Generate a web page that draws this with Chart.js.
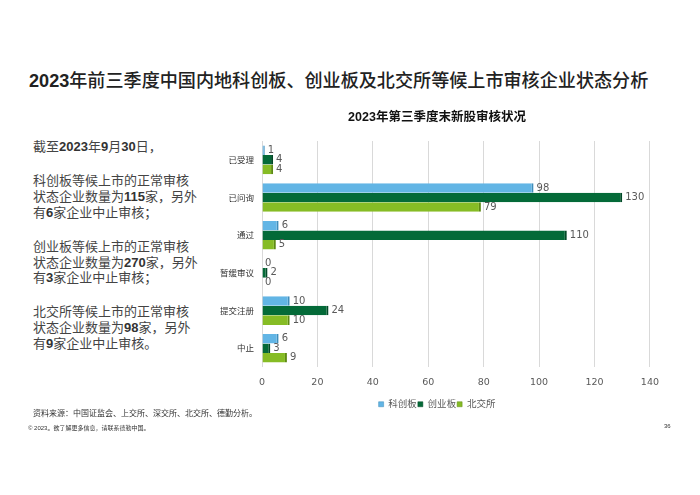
<!DOCTYPE html>
<html>
<head>
<meta charset="utf-8">
<script src="https://cdn.jsdelivr.net/npm/chart.js@4"></script>
<style>
  body { margin: 0; width: 700px; height: 495px; background: #fff; position: relative; overflow: hidden;
         font-family: "Liberation Sans", "Noto Sans CJK SC", sans-serif; color: #222; }
  .title { position: absolute; left: 29px; top: 66px; font-size: 18.1px; font-weight: bold; white-space: nowrap; }
  .title span { font-weight: 500; }
  .notes { position: absolute; left: 33px; top: 139px; font-size: 13px; line-height: 15.7px; color: #444; }
  .notes p { margin: 0 0 18.5px 0; }
  .notes b { color: #333; }
  .chartbox { position: absolute; left: 205px; top: 100px; width: 464px; height: 319px; }
  .source { position: absolute; left: 33px; top: 407px; font-size: 8px; color: #333; }
  .foot { position: absolute; left: 28px; top: 423px; font-size: 6px; color: #333; }
  .page { position: absolute; left: 664px; top: 423px; font-size: 6px; color: #333; }
</style>
</head>
<body>
<div class="title">2023<span>年前三季度中国内地科创板、创业板及北交所等候上市审核企业状态分析</span></div>
<div class="notes">
  <p>截至<b>2023</b>年<b>9</b>月<b>30</b>日，</p>
  <p>科创板等候上市的正常审核<br>状态企业数量为<b>115</b>家，另外<br>有<b>6</b>家企业中止审核；</p>
  <p>创业板等候上市的正常审核<br>状态企业数量为<b>270</b>家，另外<br>有<b>3</b>家企业中止审核；</p>
  <p>北交所等候上市的正常审核<br>状态企业数量为<b>98</b>家，另外<br>有<b>9</b>家企业中止审核。</p>
</div>
<div class="chartbox"><canvas id="reviewChart"></canvas></div>
<div class="source">资料来源：中国证监会、上交所、深交所、北交所、德勤分析。</div>
<div class="foot">© 2023。欲了解更多信息，请联系德勤中国。</div>
<div class="page">36</div>

<script>
// Data
const categories = ['已受理', '已问询', '通过', '暂缓审议', '提交注册', '中止'];
const kechuang = [1, 98, 6, 0, 10, 6];
const chuangye = [4, 130, 110, 2, 24, 3];
const beijiao = [4, 79, 5, 0, 10, 9];
const xTicks = [0, 20, 40, 60, 80, 100, 120, 140];

const chartFont = '"DejaVu Sans", "Noto Sans CJK SC", sans-serif';

// Value labels at the end of each bar
const barLabels = {
  id: 'barLabels',
  afterDatasetsDraw(chart) {
    const ctx = chart.ctx;
    ctx.save();
    ctx.font = '10px ' + chartFont;
    ctx.fillStyle = '#595959';
    ctx.textBaseline = 'middle';
    ctx.textAlign = 'left';
    chart.data.datasets.forEach((ds, i) => {
      chart.getDatasetMeta(i).data.forEach((bar, j) => {
        ctx.fillText(ds.data[j], bar.x + 3, bar.y);
      });
    });
    ctx.restore();
  }
};

const ctx = document.getElementById('reviewChart').getContext('2d');
new Chart(ctx, {
  type: 'bar',
  data: {
    labels: categories,
    datasets: [{
      label: '科创板',
      data: kechuang,
      backgroundColor: '#62B5E5',
      borderColor: '#3F8DBA',
    }, {
      label: '创业板',
      data: chuangye,
      backgroundColor: '#046A38',
      borderColor: '#024A27',
    }, {
      label: '北交所',
      data: beijiao,
      backgroundColor: '#86BC25',
      borderColor: '#5E8A14',
    }]
  },
  options: {
    indexAxis: 'y',
    responsive: true,
    maintainAspectRatio: false,
    animation: false,
    datasets: {
      bar: {
        categoryPercentage: 0.76,
        barPercentage: 1.0,
        borderWidth: { top: 0, right: 2, bottom: 0, left: 0 },
        borderSkipped: 'left'
      }
    },
    layout: { padding: { top: 0, right: 0, bottom: 0, left: 0 } },
    plugins: {
      title: {
        display: true,
        text: '2023年第三季度末新股审核状况',
        color: '#111',
        font: { family: '"Liberation Sans", "Noto Sans CJK SC", sans-serif', size: 12.5, weight: 'bold' },
        padding: { top: 10, bottom: 16 }
      },
      legend: {
        position: 'bottom',
        labels: {
          boxWidth: 5,
          boxHeight: 5,
          padding: 1,
          color: '#595959',
          font: { family: chartFont, size: 9.5 }
        }
      },
      tooltip: { enabled: false }
    },
    scales: {
      x: {
        min: 0,
        max: 140,
        afterBuildTicks: (axis) => { axis.ticks = xTicks.map(v => ({ value: v })); },
        grid: { color: '#D9D9D9', drawTicks: false },
        border: { display: false },
        ticks: { color: '#595959', padding: 10, font: { family: chartFont, size: 9.5 } }
      },
      y: {
        afterFit: (axis) => { axis.width = 57; },
        grid: { display: false, drawTicks: false },
        border: { display: false },
        ticks: { color: '#333', padding: 8, font: { family: '"Noto Sans CJK SC", sans-serif', size: 8.5 } }
      }
    }
  },
  plugins: [barLabels]
});
</script>
</body>
</html>
